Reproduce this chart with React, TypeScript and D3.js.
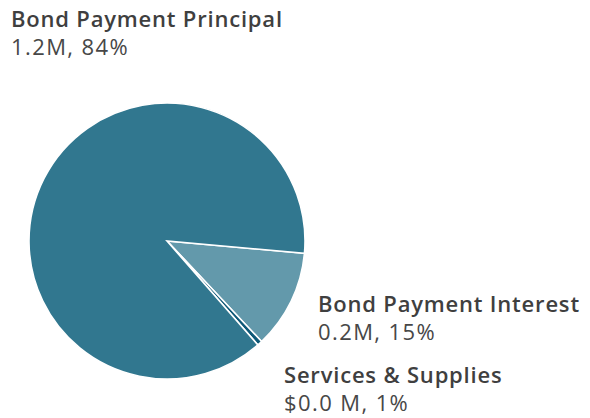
import React from 'react';
import * as d3 from 'd3';

// slice data (values in $M) - amounts
const categories = ['Bond Payment Interest', 'Services & Supplies', 'Bond Payment Principal'];
const amounts = [0.158, 0.008, 1.2];
const valueLabels = ['0.2M, 15%', '$0.0 M, 1%', '1.2M, 84%'];
const colors = ['#6399AB', '#0E5877', '#31778F'];

// label anchor points (left x, title baseline y)
const labelPos: [number, number][] = [
  [318, 312],
  [284, 383],
  [11, 27],
];

const width = 590;
const height = 418;
const cx = 167;
const cy = 241;
const radius = 138;

const App: React.FC = () => {
  const data = categories.map((c, i) => ({ name: c, value: amounts[i], label: valueLabels[i], color: colors[i] }));

  const start = (95.1 * Math.PI) / 180;
  const pie = d3
    .pie<typeof data[number]>()
    .sort(null)
    .value((d) => d.value)
    .startAngle(start)
    .endAngle(start + Math.PI * 2);

  const arc = d3.arc<d3.PieArcDatum<typeof data[number]>>().innerRadius(0).outerRadius(radius);
  const arcs = pie(data);

  return (
    <svg
      width={width}
      height={height}
      style={{ position: 'absolute', left: 0, top: 0, fontFamily: '"Open Sans", "Noto Sans", sans-serif' }}
    >
      <g transform={`translate(${cx},${cy})`}>
        {arcs.map((a, i) => (
          <path key={i} d={arc(a) ?? ''} fill={a.data.color} stroke="#fff" strokeWidth={1.6} strokeLinejoin="miter" />
        ))}
      </g>
      {data.map((d, i) => (
        <g key={d.name} transform={`translate(${labelPos[i][0]},${labelPos[i][1]})`}>
          <text fontSize={22} fontWeight={600} fill="#3f3f3f" letterSpacing={0.8}>
            {d.name}
          </text>
          <text y={27.5} fontSize={22} fontWeight={400} fill="#474747" letterSpacing={1.4}>
            {d.label}
          </text>
        </g>
      ))}
    </svg>
  );
};

export default App;
